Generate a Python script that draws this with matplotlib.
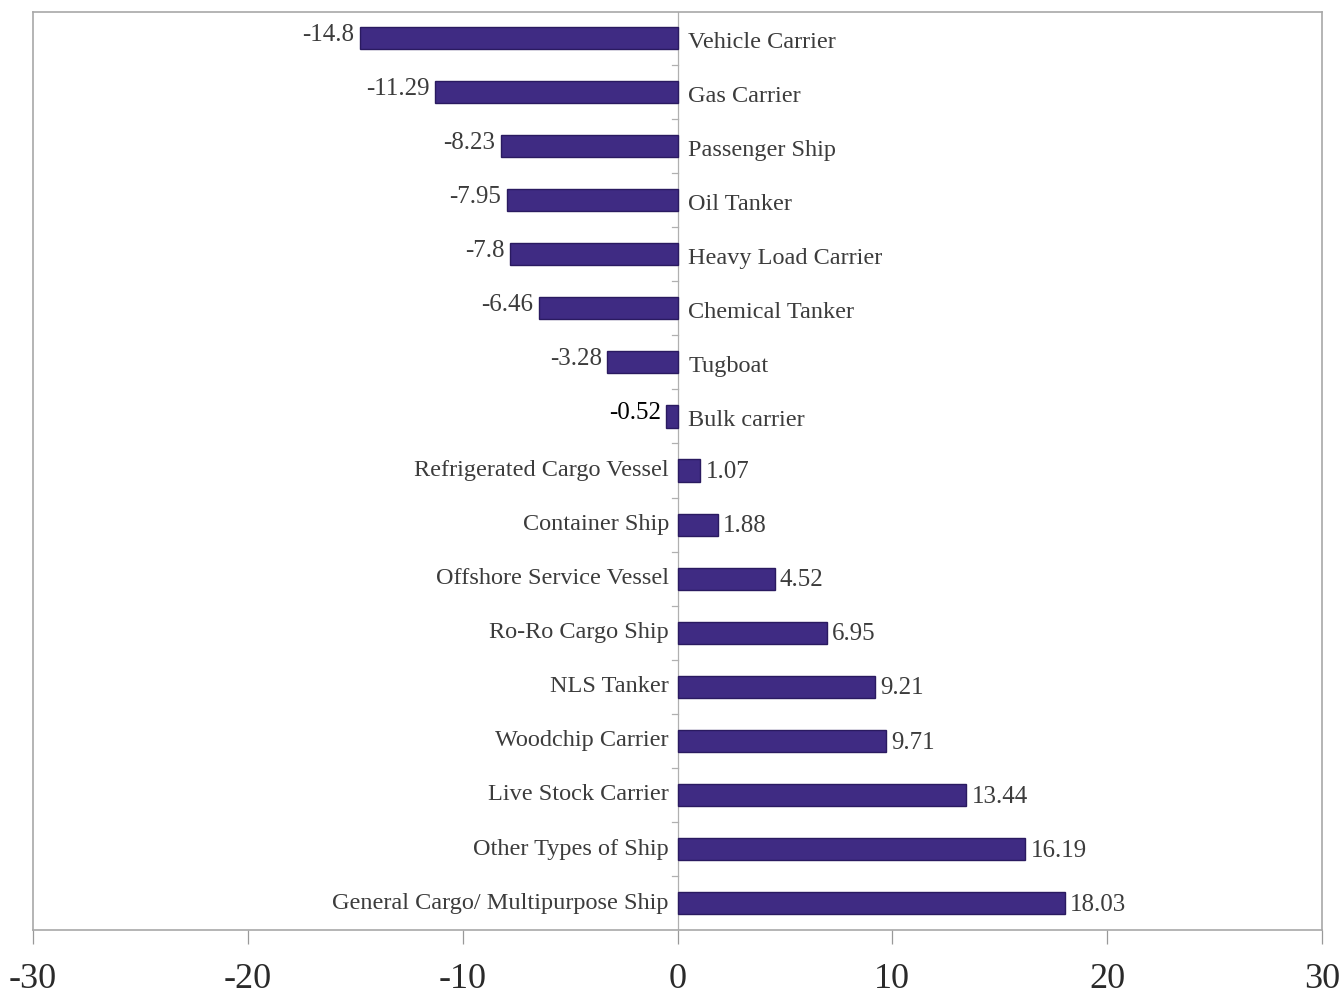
import matplotlib
matplotlib.use("Agg")
import matplotlib.pyplot as plt

# ship types, top to bottom
ship_types = [
    "Vehicle Carrier", "Gas Carrier", "Passenger Ship", "Oil Tanker",
    "Heavy Load Carrier", "Chemical Tanker", "Tugboat", "Bulk carrier",
    "Refrigerated Cargo Vessel", "Container Ship", "Offshore Service Vessel",
    "Ro-Ro Cargo Ship", "NLS Tanker", "Woodchip Carrier", "Live Stock Carrier",
    "Other Types of Ship", "General Cargo/ Multipurpose Ship",
]
change = [-14.8, -11.29, -8.23, -7.95, -7.8, -6.46, -3.28, -0.52,
          1.07, 1.88, 4.52, 6.95, 9.21, 9.71, 13.44, 16.19, 18.03]
value_text = ["-14.8", "-11.29", "-8.23", "-7.95", "-7.8", "-6.46", "-3.28", "-0.52",
              "1.07", "1.88", "4.52", "6.95", "9.21", "9.71", "13.44", "16.19", "18.03"]
x_ticks = [-30, -20, -10, 0, 10, 20, 30]

plt.rcParams["font.family"] = ["Liberation Serif", "DejaVu Serif"]

fig = plt.figure(figsize=(13.42, 9.98), dpi=100)
ax = fig.add_axes([0.0246, 0.068, 0.9605, 0.920])

bar_col = "#3f2b83"
edge_col = "#2a1a60"
txt_col = "#3c3c3c"

ypos = list(range(len(ship_types)))
ax.barh(ypos, change, height=0.41, color=bar_col, edgecolor=edge_col, linewidth=1, zorder=3)

# zero line with small category separators
ax.axvline(0, color="#b0b0b0", lw=0.9, zorder=2)
for b in range(len(ship_types) - 1):
    ax.plot([-0.25, 0], [b + 0.5, b + 0.5], color="#b0b0b0", lw=0.9, zorder=2)

for y, v, s, name in zip(ypos, change, value_text, ship_types):
    if v < 0:
        ax.text(v - 0.25, y - 0.06, s, ha="right", va="center", fontsize=18,
                color="black" if s == "-0.52" else txt_col)
        ax.text(0.5, y + 0.08, name, ha="left", va="center", fontsize=17.5, color=txt_col)
    else:
        ax.text(v + 0.25, y + 0.03, s, ha="left", va="center", fontsize=18, color=txt_col)
        ax.text(-0.4, y, name, ha="right", va="center", fontsize=17.5, color=txt_col)

ax.set_xlim(-30, 30)
ax.set_ylim(16.5, -0.48)
ax.set_xticks(x_ticks)
ax.set_xticklabels([str(t) for t in x_ticks])
ax.set_yticks([])
ax.tick_params(axis="x", direction="out", length=10, width=0.9, color="#999999",
               labelsize=26, labelcolor="#2a2a2a", pad=14)
for sp in ax.spines.values():
    sp.set_color("#a8a8a8")
    sp.set_linewidth(1.2)

fig.savefig("out.png", dpi=100)
